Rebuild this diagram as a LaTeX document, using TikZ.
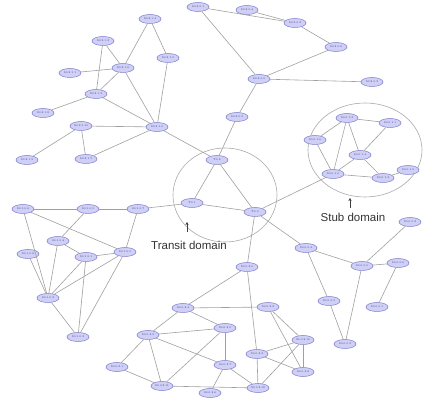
\documentclass[tikz,border=0pt]{standalone}
\usepackage{fontspec}
\newfontfamily\labelfont{Liberation Sans}
\usetikzlibrary{shapes.geometric,arrows.meta}
\definecolor{nodeborder}{RGB}{125,125,205}
\definecolor{nodefill}{RGB}{208,208,246}
\definecolor{nodetext}{RGB}{55,55,135}
\definecolor{edgecol}{RGB}{160,160,160}
\definecolor{domcol}{RGB}{170,170,170}
\tikzset{
  rnode/.style={ellipse, draw=nodeborder, fill=nodefill, line width=0.5pt,
    minimum width=22pt, minimum height=9pt, inner sep=0pt,
    font=\fontsize{2.6}{3}\selectfont, text=nodetext},
  linkline/.style={draw=edgecol, line width=0.6pt},
  domring/.style={draw=domcol, line width=0.6pt},
  domlabel/.style={font=\labelfont\fontsize{11.5}{13}\selectfont, text=black!80, inner sep=0pt},
  domarrow/.style={draw=black!75, line width=0.45pt, -{Stealth[length=3pt,width=3pt]}}
}
\begin{document}
\begin{tikzpicture}[x=1pt,y=-1pt]
\useasboundingbox[fill=white] (0,0) rectangle (426,403);
% domain circles
\draw[domring] (225,195) ellipse [x radius=52, y radius=47];
\draw[domring] (365,150) ellipse [x radius=57, y radius=47];
% transit nodes
\node[rnode] (T1) at (217,160) {T0.2};
\node[rnode] (T2) at (192,203) {T0.1};
\node[rnode] (T3) at (255,212) {T0.0};
% top-left stub
\node[rnode] (n1) at (150,19) {S0.2.1.4};
\node[rnode] (n2) at (103,41) {S0.2.1.2};
\node[rnode] (n3) at (123,68) {S0.2.1.6};
\node[rnode] (n4) at (168,58) {S0.2.1.5};
\node[rnode] (n5) at (70,73) {S0.2.1.1};
\node[rnode] (n6) at (96,94) {S0.2.1.3};
\node[rnode] (n7) at (43,113) {S0.2.1.8};
\node[rnode] (n8) at (81,126) {S0.2.1.10};
\node[rnode] (n9) at (157,127) {S0.2.1.0};
\node[rnode] (n10) at (27,160) {S0.2.1.9};
\node[rnode] (n11) at (86,159) {S0.2.1.7};
% top-right stub
\node[rnode] (m1) at (198,7) {S0.2.0.1};
\node[rnode] (m2) at (247,10) {S0.2.0.4};
\node[rnode] (m3) at (295,23) {S0.2.0.3};
\node[rnode] (m4) at (336,47) {S0.2.0.6};
\node[rnode] (m5) at (259,79) {S0.2.0.0};
\node[rnode] (m6) at (372,82) {S0.2.0.2};
\node[rnode] (m7) at (237,117) {S0.2.0.5};
% stub domain
\node[rnode] (s1) at (347,118) {S0.0.1.2};
\node[rnode] (s2) at (390,123) {S0.0.1.1};
\node[rnode] (s3) at (315,140) {S0.0.1.6};
\node[rnode] (s4) at (360,155) {S0.0.1.4};
\node[rnode] (s5) at (333,174) {S0.0.1.0};
\node[rnode] (s6) at (383,178) {S0.0.1.3};
\node[rnode] (s7) at (408,170) {S0.0.1.5};
% right-lower stub
\node[rnode] (r1) at (306,248) {S0.0.0.4};
\node[rnode] (r2) at (362,266) {S0.0.0.0};
\node[rnode] (r3) at (398,263) {S0.0.0.6};
\node[rnode] (r4) at (329,301) {S0.0.0.5};
\node[rnode] (r5) at (377,307) {S0.0.0.1};
\node[rnode] (r6) at (345,344) {S0.0.0.3};
\node[rnode] (r7) at (410,222) {S0.0.0.2};
% left stub
\node[rnode] (p1) at (23,209) {S0.1.0.6};
\node[rnode] (p2) at (88,209) {S0.1.0.5};
\node[rnode] (p3) at (138,209) {S0.1.0.7};
\node[rnode] (p4) at (58,241) {S0.1.0.4};
\node[rnode] (p5) at (28,254) {S0.1.0.8};
\node[rnode] (p6) at (86,257) {S0.1.0.1};
\node[rnode] (p7) at (125,252) {S0.1.0.0};
\node[rnode] (p8) at (48,298) {S0.1.0.2};
\node[rnode] (p10) at (78,337) {S0.1.0.3};
% bottom stub
\node[rnode] (q1) at (247,267) {S0.0.2.0};
\node[rnode] (q2) at (183,308) {S0.0.2.4};
\node[rnode] (q3) at (268,307) {S0.0.2.2};
\node[rnode] (q4) at (148,335) {S0.0.2.9};
\node[rnode] (q5) at (225,328) {S0.0.2.5};
\node[rnode] (q6) at (117,367) {S0.0.2.1};
\node[rnode] (q7) at (225,365) {S0.0.2.7};
\node[rnode] (q8) at (257,354) {S0.0.2.3};
\node[rnode] (q9) at (303,340) {S0.0.2.10};
\node[rnode] (q10) at (162,386) {S0.0.2.11};
\node[rnode] (q11) at (210,393) {S0.0.2.6};
\node[rnode] (q12) at (258,388) {S0.0.2.12};
\node[rnode] (q13) at (303,372) {S0.0.2.8};
% connectors
\foreach \a/\b in {n1/n3,n1/n4,n4/n9,n2/n3,n2/n6,n5/n3,n3/n6,n3/n9,n6/n7,n6/n9,
  n8/n9,n8/n10,n8/n11,n11/n9,n9/T1,
  m1/m3,m2/m3,m3/m4,m4/m5,m5/m6,m1/m5,m5/m7,m7/T1,
  T1/T2,T1/T3,T2/T3,T2/p3,T3/s5,T3/q1,T3/r1,
  s1/s2,s1/s3,s1/s4,s1/s5,s2/s4,s3/s5,s4/s5,s4/s6,s5/s6,s6/s7,
  r1/r2,r1/r4,r4/r6,r2/r6,r2/r3,r2/r7,r3/r5,
  p1/p2,p2/p3,p1/p7,p2/p4,p3/p7,p4/p6,p4/p8,p1/p8,p5/p8,p6/p7,p6/p8,p7/p8,
  p8/p10,p6/p10,p7/p10,
  q1/q2,q1/q8,q2/q3,q2/q4,q2/q5,q4/q5,q4/q6,q4/q7,q4/q10,q5/q7,q5/q10,q6/q10,
  q7/q11,q7/q12,q10/q12,q8/q9,q8/q12,q8/q13,q3/q9,q3/q13,q9/q13,q9/q12}
  \draw[linkline] (\a) -- (\b);
% domain labels
\coordinate (ta0) at (187,232);
\coordinate (ta1) at (187,222);
\draw[domarrow] (ta0) -- (ta1);
\node[domlabel] (tlab) at (189,245) {Transit domain};
\coordinate (sa0) at (350,208);
\coordinate (sa1) at (350,198);
\draw[domarrow] (sa0) -- (sa1);
\node[domlabel] (slab) at (353,217) {Stub domain};
\end{tikzpicture}
\end{document}
